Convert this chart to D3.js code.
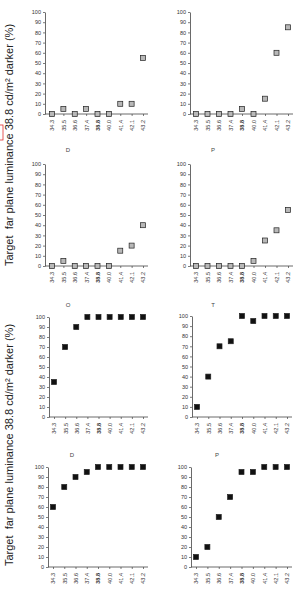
<!DOCTYPE html>
<html><head><meta charset="utf-8">
<script src="https://cdn.jsdelivr.net/npm/d3@7"></script>
<style>
body{margin:0;background:#fff;}
svg{display:block;font-family:"Liberation Sans",Arial,sans-serif;}
</style></head>
<body><svg id="c" width="294" height="591"></svg>
<script>
const categories = ["34.3","35.5","36.6","37.4","38.8","40.0","41.4","42.1","43.2"];
const yTicks = [0,10,20,30,40,50,60,70,80,90,100];
const titles = ["", "", "D", "P", "O", "T", "D", "P"];
const farA = [0,5,0,5,0,0,10,10,55];
const farB = [0,0,0,0,5,0,15,60,85];
const farD = [0,5,0,0,0,0,15,20,40];
const farP = [0,0,0,0,0,5,25,35,55];
const nearO = [35,70,90,100,100,100,100,100,100];
const nearT = [10,40,70,75,100,95,100,100,100];
const nearD = [60,80,90,95,100,100,100,100,100];
const nearP = [10,20,50,70,95,95,100,100,100];
const seriesList = [farA, farB, farD, farP, nearO, nearT, nearD, nearP];
const yTitle = "Target  far plane luminance 38.8 cd/m\u00B2 darker (%)";

// layout (positions only)
const layout = [
  {ax:45, x0:52, x1:143, top:12, bot:114, fill:"#b8b8b8"},
  {ax:190, x0:196, x1:288, top:12, bot:114, fill:"#b8b8b8"},
  {ax:45, x0:52, x1:143, top:164, bot:266, fill:"#b8b8b8", tx:68, ty:152},
  {ax:190, x0:196, x1:288, top:164, bot:266, fill:"#b8b8b8", tx:213, ty:152},
  {ax:49, x0:54, x1:143, top:317, bot:417, fill:"#111", tx:68, ty:307},
  {ax:192, x0:197, x1:287, top:316, bot:417, fill:"#111", tx:213, ty:307},
  {ax:48, x0:53, x1:143, top:467, bot:567, fill:"#111", tx:72, ty:457},
  {ax:191, x0:196, x1:287, top:467, bot:567, fill:"#111", tx:217, ty:457}
];

const svg = d3.select("#c");

layout.forEach((L, i) => {
  const vals = seriesList[i];
  const x = d3.scalePoint().domain(categories).range([L.x0, L.x1]);
  const y = d3.scaleLinear().domain([0,100]).range([L.bot, L.top]);
  const g = svg.append("g");

  // y axis
  const ya = g.append("g").attr("transform", `translate(${L.ax},0)`)
    .call(d3.axisLeft(y).tickValues(yTicks).tickSize(2).tickPadding(2).tickSizeOuter(0));
  ya.select(".domain").attr("stroke", "#444").attr("stroke-width", 0.8);
  ya.selectAll(".tick line").attr("stroke", "#444").attr("stroke-width", 0.7);
  ya.selectAll("text").attr("font-size", 5.5).attr("fill", "#333");

  // x axis
  const xa = g.append("g").attr("transform", `translate(0,${L.bot})`)
    .call(d3.axisBottom(x).tickSize(2).tickSizeOuter(0));
  xa.select(".domain").attr("d", `M${L.ax},0H${L.x1 + 5}`).attr("stroke", "#444").attr("stroke-width", 0.8);
  xa.selectAll(".tick line").attr("stroke", "#444").attr("stroke-width", 0.7);
  xa.selectAll("text")
    .attr("font-size", 5.5).attr("fill", "#333")
    .attr("y", 0).attr("dy", "0.35em")
    .attr("transform", "translate(0,6) rotate(-90)")
    .attr("text-anchor", "end")
    .attr("font-weight", d => d === "38.8" ? "bold" : "normal");

  // points
  g.selectAll("rect.pt").data(vals).enter().append("rect")
    .attr("class", "pt")
    .attr("x", (d, j) => x(categories[j]) - 2.5)
    .attr("y", d => y(d) - 2.5)
    .attr("width", 5).attr("height", 5)
    .attr("fill", L.fill)
    .attr("stroke", "#222").attr("stroke-width", 0.7);

  if (titles[i]) {
    g.append("text").attr("x", L.tx).attr("y", L.ty)
      .attr("text-anchor", "middle").attr("font-size", 6).attr("fill", "#444")
      .text(titles[i]);
  }
});

// y-axis titles
[145, 445].forEach(cy => {
  svg.append("text")
    .attr("transform", `translate(13,${cy}) rotate(-90)`)
    .attr("text-anchor", "middle")
    .attr("font-size", 11).attr("fill", "#222")
    .style("white-space", "pre")
    .text(yTitle);
});

// small red box at left edge
svg.append("rect").attr("x", -10).attr("y", 125).attr("width", 13).attr("height", 15)
  .attr("fill", "none").attr("stroke", "#e03030").attr("stroke-width", 0.8);
</script>
</body></html>
